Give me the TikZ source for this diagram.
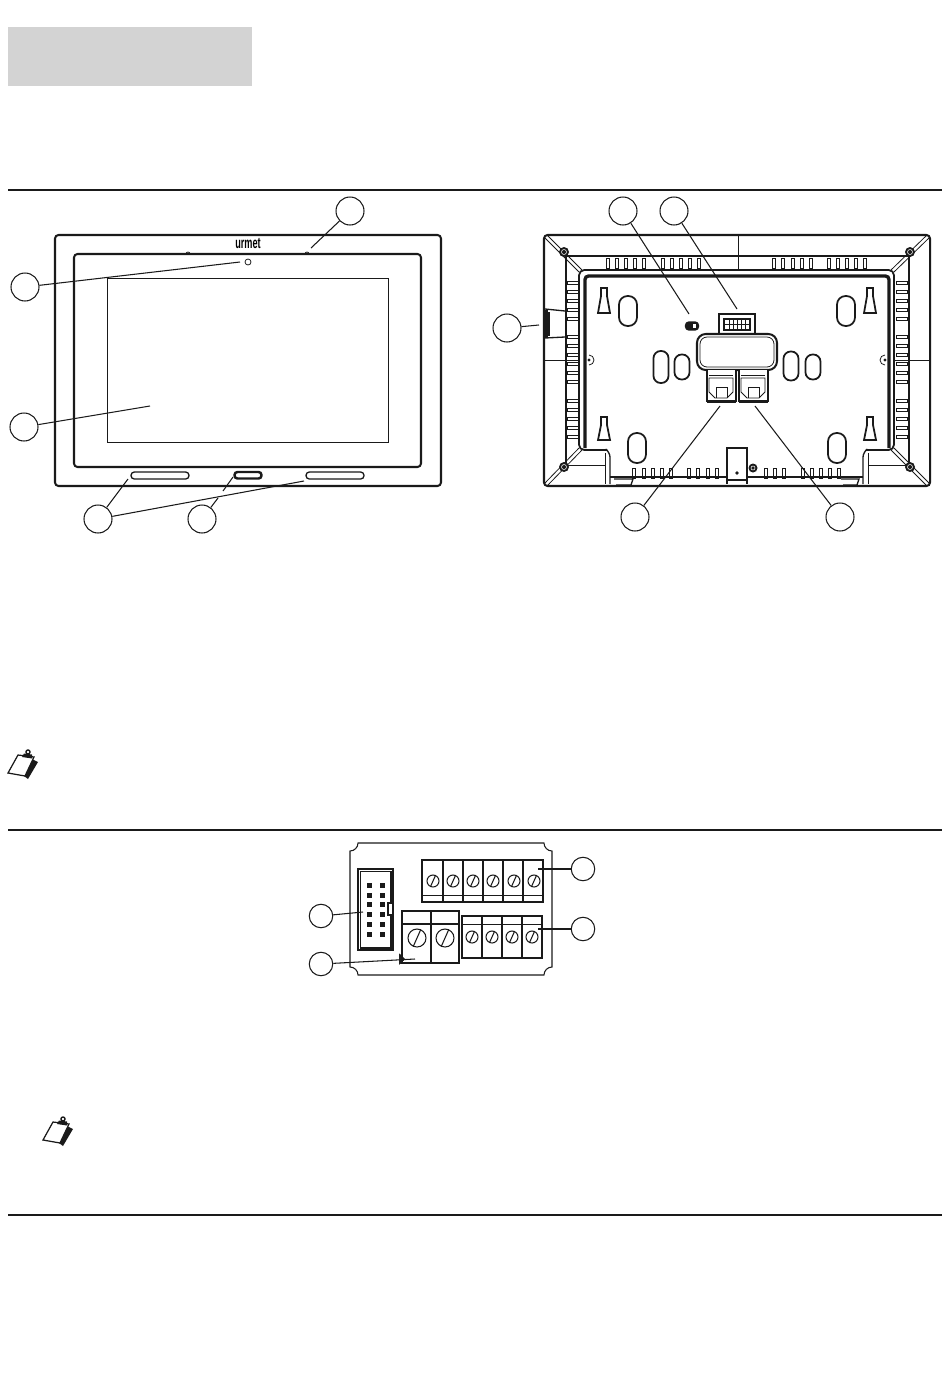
\documentclass[tikz,border=0pt]{standalone}
\usepackage{fontspec}
\usepackage{graphicx}
\setmainfont{Liberation Sans}
\definecolor{bandgray}{HTML}{D3D3D3}
\definecolor{inkblack}{HTML}{1A1A1A}
\tikzset{
  callout/.style={shape=circle, draw=inkblack, line width=0.6pt, minimum size=0.56cm, inner sep=0pt},
  smallcallout/.style={shape=circle, draw=inkblack, line width=0.6pt, minimum size=0.47cm, inner sep=0pt},
  leader/.style={-, line width=0.6pt, draw=inkblack},
  thinline/.style={line width=0.45pt, draw=inkblack},
  termline/.style={line width=0.6pt, draw=inkblack},
  midline/.style={line width=0.75pt, draw=inkblack},
  holeline/.style={line width=1pt, draw=inkblack},
  heavyline/.style={line width=1.15pt, draw=inkblack},
  sectionrule/.style={line width=0.85pt, draw=inkblack},
  pics/noteicon/.style={code={
    \fill[inkblack] (24,7) -- (30,10) -- (20,27) -- (16,24) -- cycle;
    \draw[fill=white, line width=0.7pt, draw=inkblack] (10,3) -- (26,5) -- (17,24) -- (0,21) -- cycle;
    \fill[inkblack] (14,5) -- (16,1.5) -- (24,2.5) -- (24,6.5) -- cycle;
    \draw[line width=0.8pt, draw=inkblack] (20,0) circle (2);
  }}
}
\newcommand{\slotoval}[4]{\draw[holeline, rounded corners=#3*0.0095cm] (#1-#3/2,#2-#4/2) rectangle (#1+#3/2,#2+#4/2);}
\newcommand{\keyhole}[3]{\draw[holeline] (#1-3,#2) -- (#1+3,#2) -- (#1+3,#2+8) -- (#1+6,#3) -- (#1-6,#3) -- (#1-3,#2+8) -- cycle;}
\newcommand{\termscrew}[3]{
  \draw[termline] (#1,#2) circle (#3);
  \draw[termline] (#1-0.4*#3,#2+0.9*#3) -- (#1+0.4*#3,#2-0.9*#3);
}
\begin{document}
\begin{tikzpicture}[x=0.02cm, y=-0.02cm]
\useasboundingbox (0,0) rectangle (950,1383);
\fill[bandgray] (8,27) rectangle (252,86);
\draw[sectionrule] (8,190) -- (942,190);
\draw[sectionrule] (8,830) -- (942,830);
\draw[sectionrule] (8,1215) -- (942,1215);
% front view
\draw[heavyline, rounded corners=2pt] (55,235) rectangle (441,486);
\draw[heavyline, rounded corners=2pt] (74,254) rectangle (421,467);
\draw[termline] (107.5,278.5) rectangle (388.5,442.5);
\draw[midline, rounded corners=1.9pt] (131,472) rectangle (189,479);
\draw[heavyline, line width=1.4pt, rounded corners=1.7pt] (234.5,472) rectangle (261.5,478.5);
\draw[midline, rounded corners=1.9pt] (306,472) rectangle (364,479);
\draw[thinline] (248,262) circle (3);
\draw[thinline] (186,254) arc (180:360:2);
\draw[thinline] (305,254) arc (180:360:2);
\node[inner sep=0pt] (logo) at (248,244) {\scalebox{1}[1.7]{\fontsize{5.2}{5}\selectfont\bfseries urmet}};
\node[callout] (cam) at (25,287) {};
\node[callout] (mic) at (350,211) {};
\node[callout] (lcd) at (24,427) {};
\node[callout] (keys) at (98,519) {};
\node[callout] (home) at (202,519) {};
\coordinate (camend) at (240,262);
\coordinate (micend) at (311,248);
\coordinate (lcdend) at (150,406);
\coordinate (keyl) at (128,479);
\coordinate (keyr) at (304,481);
\coordinate (homegapa) at (218,498);
\coordinate (homegapb) at (223,491);
\coordinate (homeend) at (233,477);
\path [leader] (cam) edge (camend);
\path [leader] (mic) edge (micend);
\path [leader] (lcd) edge (lcdend);
\path [leader] (keys) edge (keyl);
\path [leader] (keys) edge (keyr);
\path [leader] (home) edge (homegapa);
\path [leader] (homegapb) edge (homeend);
% rear view
\draw[heavyline, rounded corners=2pt] (544,235) rectangle (930,486);
\draw[midline] (566,256) -- (909,256) -- (909,467);
\draw[midline] (566,256) -- (566,467);
\draw[thinline] (566,465) -- (605,465);
\draw[thinline] (868,465) -- (909,465);
\draw[midline, line width=1pt, rounded corners=3pt] (607,450) -- (579,450) -- (579,270) -- (894,270) -- (894,450) -- (866,450);
\draw[heavyline, line width=1.9pt, rounded corners=2pt] (585,448) -- (585,276) -- (889,276) -- (889,448);
\draw[thinline] (738,235) -- (738,270);
\draw[thinline] (544,360) -- (579,360);
\draw[thinline] (894,360) -- (930,360);
\foreach \sx/\sa/\sb in {1/544/579, -1/930/894} {
  \draw[thinline] (\sa,235+2) -- (\sb,270+2);
  \draw[thinline] (\sa+\sx*3,235) -- (\sb+\sx*3,270);
  \draw[thinline] (\sa,486-2) -- (\sb,450-2);
  \draw[thinline] (\sa+\sx*3,486) -- (\sb+\sx*3,450);
}
\foreach \px/\py in {564/252, 910/252, 564/467, 910/467} {
  \fill[inkblack] (\px,\py) circle (5);
  \draw[white, line width=0.3pt] (\px,\py) circle (2.5);
}
\fill[inkblack] (753,468) circle (4.5);
\draw[white, line width=0.3pt] (753,468) circle (2);
\foreach \rx in {608,617,626,635,644,663,672,681,690,699,774,783,793,802,811,829,838,847,856,865}
  \draw[thinline] (\rx-1.5,258) rectangle (\rx+1.5,268);
\foreach \ry in {283,292,301,310,319,337,346,355,364,373,382,401,410,419,428,437} {
  \draw[thinline] (567,\ry-1.5) rectangle (578,\ry+1.5);
  \draw[thinline] (896,\ry-1.5) rectangle (907,\ry+1.5);
}
\foreach \rx in {634,644,653,662,671,689,698,708,717,766,775,784,803,812,821,830,839}
  \draw[thinline] (\rx-1.5,468) rectangle (\rx+1.5,478);
\keyhole{604}{288}{313}
\keyhole{870}{288}{313}
\keyhole{604}{417}{440}
\keyhole{870}{417}{440}
\slotoval{628}{311}{18}{30}
\slotoval{846}{311}{18}{30}
\slotoval{637}{448}{18}{30}
\slotoval{837}{448}{18}{30}
\slotoval{661}{367}{15}{32}
\slotoval{682}{367}{15}{25}
\slotoval{791}{366}{15}{29}
\slotoval{813}{367}{15}{25}
% side holder and bottom edge
\draw[midline] (545,309) -- (565,311);
\draw[midline] (545,338) -- (565,337);
\draw[holeline, fill=inkblack] (545,311) rectangle (547,337);
\draw[termline] (549,312) -- (549,336);
\draw[thinline] (589,355) arc (-90:90:5);
\draw[thinline] (589,360) circle (1);
\draw[thinline] (885,355) arc (270:90:5);
\draw[thinline] (885,360) circle (1);
\draw[midline] (610,477) -- (727,477);
\draw[midline] (747,477) -- (863,477);
\draw[midline, rounded corners=3pt] (607,450) -- (610,452) -- (610,484);
\draw[thinline] (605,453) -- (605,484);
\draw[midline, rounded corners=3pt] (866,450) -- (863,452) -- (863,484);
\draw[thinline] (868,453) -- (868,484);
\draw[midline] (614,479) -- (633,479) -- (631,485) -- (616,485);
\draw[midline] (841,479) -- (859,479) -- (857,485) -- (843,485);
\draw[midline] (727,484) -- (727,448) -- (747,448) -- (747,484);
\draw[midline] (727,480) -- (747,480);
\fill[inkblack] (737,473) circle (1.8);
% module with plugs
\draw[heavyline, fill=white] (719,333) -- (719,314) -- (755,314) -- (755,333);
\draw[termline] (724,319) rectangle (750,330);
\draw[thinline] (724,324.5) -- (750,324.5);
\foreach \dx in {729,733,737,741,745} \draw[thinline] (\dx,320) -- (\dx,329);
\draw[heavyline, rounded corners=5pt] (697,370) -- (697,334) -- (777,334) -- (777,370) -- cycle;
\draw[thinline, rounded corners=4pt] (700,367) -- (700,337) -- (774,337) -- (774,367) -- cycle;
\draw[midline, fill=white] (707,370) -- (707,401.5) -- (736,401.5) -- (736,370);
\draw[midline, fill=white] (739,370) -- (739,401.5) -- (768,401.5) -- (768,370);
\draw[heavyline, line width=1.8pt] (707,401.5) -- (736,401.5);
\draw[heavyline, line width=1.8pt] (739,401.5) -- (768,401.5);
\foreach \jx in {709,741} {
  \draw[thinline] (\jx,378) -- (\jx+24,378) -- (\jx+24,392) -- (\jx+18,398) -- (\jx+6,398) -- (\jx,392) -- cycle;
  \draw[thinline] (\jx,375) -- (\jx+24,375);
  \draw[thinline] (\jx+7,398) -- (\jx+7,387) -- (\jx+18,387) -- (\jx+18,398);
}
\draw[heavyline, fill=inkblack, rounded corners=1.5pt] (686,322.5) rectangle (698,329.5);
\fill[white] (693,324) rectangle (696,328);
\node[callout] (sdcard) at (507,328) {};
\node[callout] (switch) at (623,211) {};
\node[callout] (busconn) at (674,211) {};
\node[callout] (lanleft) at (635,517) {};
\node[callout] (lanright) at (840,517) {};
\coordinate (sdend) at (539,325);
\coordinate (swend) at (689,314);
\coordinate (busend) at (737,309);
\coordinate (lanlend) at (720,406);
\coordinate (lanrend) at (755,406);
\path [leader] (sdcard) edge (sdend);
\path [leader] (switch) edge (swend);
\path [leader] (busconn) edge (busend);
\path [leader] (lanleft) edge (lanlend);
\path [leader] (lanright) edge (lanrend);
% terminal board
\draw[termline] (358,843) -- (544,843) arc (180:90:8) -- (552,967) arc (270:180:8) -- (358,975) arc (0:-90:8) -- (350,851) arc (90:0:8) -- cycle;
\draw[termline] (358,869) rectangle (393,950);
\draw[termline] (360.5,871.5) -- (391,871.5) -- (391,903) -- (388,903) -- (388,915) -- (391,915) -- (391,948) -- (360.5,948) -- cycle;
\foreach \py in {885,895,904,914,924,934} {
  \fill[inkblack] (366.5,\py-2.5) rectangle (371.5,\py+2.5);
  \fill[inkblack] (380,\py-2.5) rectangle (385,\py+2.5);
}
\draw[termline] (422,860) rectangle (543,902);
\draw[thinline] (422,895) -- (543,895);
\foreach \dx in {443,463,483,503,523} \draw[termline] (\dx,860) -- (\dx,902);
\foreach \sx in {433,453,473,493,514,534} \termscrew{\sx}{881}{6}
\draw[termline] (402,911) rectangle (459,963);
\draw[termline] (402,924) -- (459,924);
\draw[termline] (431,911) -- (431,963);
\termscrew{417}{938}{9}
\termscrew{445}{938}{9}
\draw[termline] (462,916) rectangle (542,958);
\draw[thinline] (462,924) -- (542,924);
\foreach \dx in {482,502,522} \draw[termline] (\dx,916) -- (\dx,958);
\foreach \sx in {472,492,512,532} \termscrew{\sx}{937}{6}
\draw[termline] (400,955) -- (400,963) -- (404,959) -- cycle;
\node[smallcallout] (bussrow) at (583,869) {};
\node[smallcallout] (auxrow) at (583,929) {};
\node[smallcallout] (flatconn) at (321,916) {};
\node[smallcallout] (powerrow) at (321,964) {};
\coordinate (busrend) at (538,869);
\coordinate (auxrend) at (538,929);
\coordinate (flatend) at (363,912);
\coordinate (powerend) at (415,959);
\path [leader] (bussrow) edge (busrend);
\path [leader] (auxrow) edge (auxrend);
\path [leader] (flatconn) edge (flatend);
\path [leader] (powerrow) edge (powerend);
% note icons
\pic at (8,752) {noteicon};
\pic at (43,1119) {noteicon};
\end{tikzpicture}
\end{document}
